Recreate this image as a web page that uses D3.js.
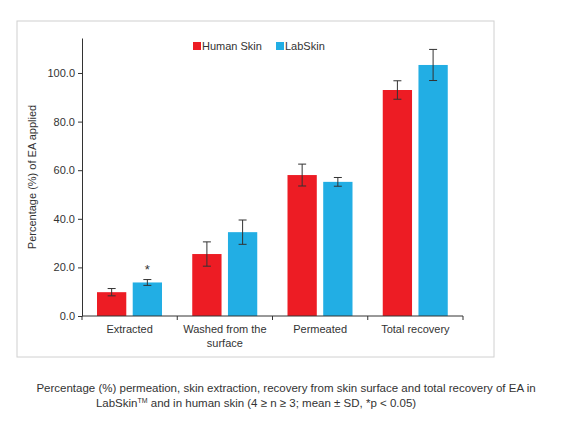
<!DOCTYPE html>
<html><head><meta charset="utf-8">
<script src="https://cdn.jsdelivr.net/npm/d3@7"></script>
<style>body{margin:0;background:#fff;font-family:"Liberation Sans",Arial,sans-serif}</style>
</head><body><svg id="c" width="575" height="428"></svg>
<script>
const categories = [["Extracted"], ["Washed from the", "surface"], ["Permeated"], ["Total recovery"]];
const series = ["Human Skin", "LabSkin"];
const humanMean = [9.8, 25.5, 58.0, 93.0];
const humanSD = [1.5, 5.0, 4.5, 3.8];
const labMean = [13.8, 34.5, 55.2, 103.3];
const labSD = [1.2, 5.0, 1.8, 6.4];
const yTicks = [0, 20, 40, 60, 80, 100];
const colors = ["#ed1c24", "#22aee4"];

const svg = d3.select("#c");
svg.append("rect").attr("x", 17).attr("y", 21).attr("width", 477).attr("height", 336)
  .attr("fill", "none").attr("stroke", "#d0d0d0");

const x = d3.scaleBand().domain(d3.range(4)).range([82, 463]).paddingInner(0).paddingOuter(0);
const x1 = d3.scaleBand().domain([0, 1]).range([15, 80]).paddingInner(0.18);
const y = d3.scaleLinear().domain([0, 114.4]).range([316, 38]);

const data = [];
categories.forEach((c, i) => {
  data.push({i, s: 0, m: humanMean[i], sd: humanSD[i]});
  data.push({i, s: 1, m: labMean[i], sd: labSD[i]});
});

const g = svg.append("g");
g.selectAll("rect.bar").data(data).enter().append("rect")
  .attr("x", d => x(d.i) + x1(d.s)).attr("width", x1.bandwidth())
  .attr("y", d => y(d.m)).attr("height", d => y(0) - y(d.m))
  .attr("fill", d => colors[d.s]);

const eb = g.selectAll("g.err").data(data).enter().append("g").attr("stroke", "#333").attr("stroke-width", 1);
const cx = d => x(d.i) + x1(d.s) + x1.bandwidth() / 2;
eb.append("line").attr("x1", cx).attr("x2", cx).attr("y1", d => y(d.m - d.sd)).attr("y2", d => y(d.m + d.sd));
eb.append("line").attr("x1", d => cx(d) - 4).attr("x2", d => cx(d) + 4).attr("y1", d => y(d.m - d.sd)).attr("y2", d => y(d.m - d.sd));
eb.append("line").attr("x1", d => cx(d) - 4).attr("x2", d => cx(d) + 4).attr("y1", d => y(d.m + d.sd)).attr("y2", d => y(d.m + d.sd));

g.append("text").attr("x", x(0) + x1(1) + x1.bandwidth() / 2).attr("y", y(labMean[0] + labSD[0]) - 6)
  .attr("text-anchor", "middle").attr("font-size", 13).attr("fill", "#333").text("*");

// axes
const ya = svg.append("g").attr("transform", "translate(82,0)")
  .call(d3.axisLeft(y).tickValues(yTicks).tickFormat(d3.format(".1f")).tickSize(4).tickSizeOuter(0));
ya.select(".domain").attr("stroke", "#333");
ya.selectAll("line").attr("stroke", "#333");
ya.selectAll("text").attr("font-size", 11).attr("fill", "#333").attr("font-family", "Liberation Sans, Arial");

const xa = svg.append("g").attr("transform", "translate(0,316)");
xa.append("line").attr("x1", 82).attr("x2", 463).attr("stroke", "#333");
d3.range(5).forEach(k => {
  const px = k < 4 ? x(k) : 463;
  xa.append("line").attr("x1", px).attr("x2", px).attr("y1", 0).attr("y2", 4).attr("stroke", "#333");
});
categories.forEach((lines, i) => {
  const t = xa.append("text").attr("text-anchor", "middle").attr("font-size", 11).attr("fill", "#333")
    .attr("x", x(i) + x.bandwidth() / 2).attr("y", 17);
  lines.forEach((l, j) => t.append("tspan").attr("x", x(i) + x.bandwidth() / 2).attr("dy", j ? 14 : 0).text(l));
});

svg.append("text").attr("transform", "translate(36,177) rotate(-90)").attr("text-anchor", "middle")
  .attr("font-size", 11).attr("fill", "#333").text("Percentage (%) of EA applied");

// legend
const lx = [193, 276];
series.forEach((s, i) => {
  svg.append("rect").attr("x", lx[i]).attr("y", 42).attr("width", 8).attr("height", 8).attr("fill", colors[i]);
  svg.append("text").attr("x", lx[i] + 9).attr("y", 50).attr("font-size", 11).attr("fill", "#333").text(s);
});

// caption
svg.append("text").attr("x", 286).attr("y", 392).attr("text-anchor", "middle").attr("font-size", 11.5).attr("fill", "#333")
  .text("Percentage (%) permeation, skin extraction, recovery from skin surface and total recovery of EA in");
const cap = svg.append("text").attr("x", 256).attr("y", 407).attr("text-anchor", "middle").attr("font-size", 11.5).attr("fill", "#333");
cap.append("tspan").text("LabSkin");
cap.append("tspan").attr("font-size", 7).attr("dy", -4).text("TM");
cap.append("tspan").attr("dy", 4).text(" and in human skin (4 \u2265 n \u2265 3; mean \u00b1 SD, *p < 0.05)");
</script></body></html>
